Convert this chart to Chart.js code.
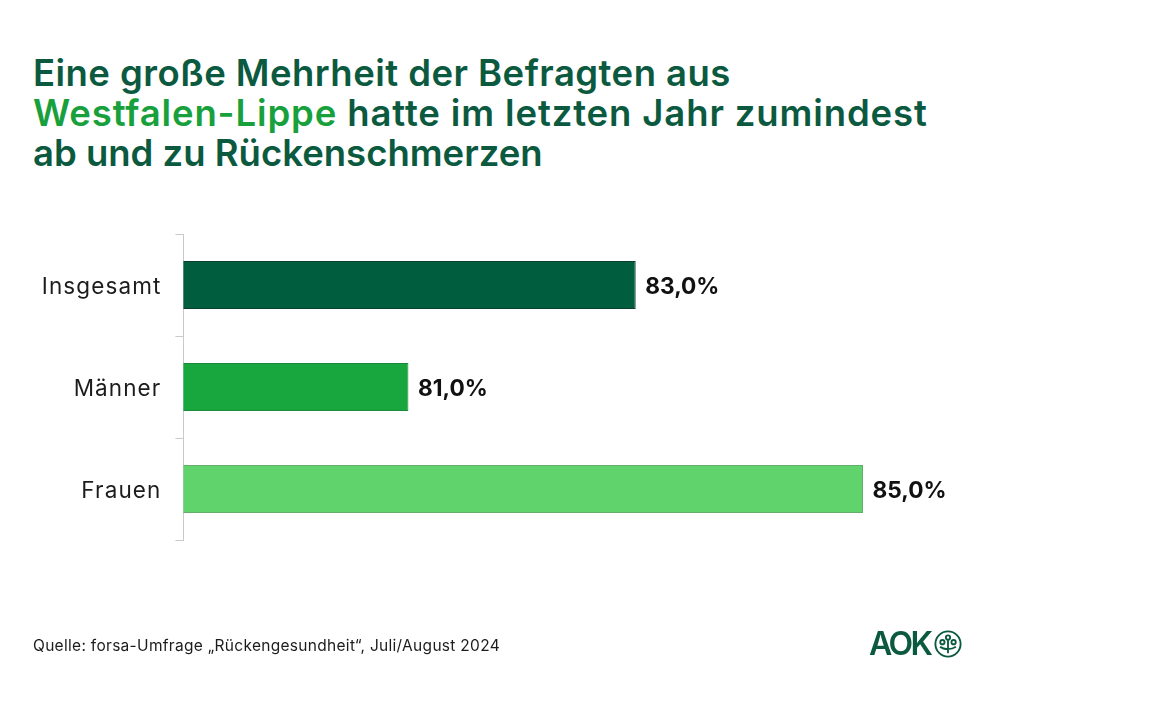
<!DOCTYPE html>
<html lang="de">
<head>
<meta charset="utf-8">
<title>Rückenschmerzen Westfalen-Lippe</title>
<script src="https://cdn.jsdelivr.net/npm/chart.js@4"></script>
<style>
  html, body { margin: 0; padding: 0; background: #fff; }
  #wrap { position: relative; width: 1152px; height: 720px; overflow: hidden; font-family: Inter, sans-serif; }
  #chart { position: absolute; left: 0; top: 0; }
  h1 { position: absolute; left: 33px; top: 53px; margin: 0; font-size: 36.5px; line-height: 40px; font-weight: 600; color: #0b5a40; white-space: nowrap; }
  h1 div:nth-child(1) { letter-spacing: 0.46px; }
  h1 div:nth-child(2) { letter-spacing: 0.87px; }
  h1 span { color: #18a03c; }
  #source { position: absolute; left: 33px; top: 636px; font-size: 15.5px; letter-spacing: 0.3px; color: #1c1c1c; white-space: nowrap; }
  #logo { position: absolute; left: 869px; top: 626px; display: flex; align-items: center; color: #0b5a40; }
  #logo b { font-size: 32px; font-weight: 600; letter-spacing: -2.5px; line-height: 36px; }
  #logo svg { margin-left: 3px; }
</style>
</head>
<body>
<div id="wrap">
  <h1><div>Eine große Mehrheit der Befragten aus</div><div><span>Westfalen-Lippe</span> hatte im letzten Jahr zumindest</div><div>ab und zu Rückenschmerzen</div></h1>
  <canvas id="chart" width="1152" height="720"></canvas>
  <div id="source">Quelle: forsa-Umfrage „Rückengesundheit“, Juli/August 2024</div>
  <div id="logo">
    <b>AOK</b>
    <svg width="28" height="28" viewBox="0 0 30 30" fill="none" stroke="#0b5a40" stroke-width="2">
      <circle cx="15" cy="15" r="13.5"/>
      <circle cx="15" cy="8" r="2.3"/>
      <circle cx="9" cy="13" r="2.3"/>
      <circle cx="21" cy="13" r="2.3"/>
      <path d="M15 25V10.5M6.5 18c3 2.5 6 2.5 8.5 2.5s5.500-.5 8.500-2.500"/>
    </svg>
  </div>
</div>
<script>
const categories = ['Insgesamt', 'Männer', 'Frauen'];
const values = [83, 81, 85];
const valueLabels = ['83,0%', '81,0%', '85,0%'];
const barColors = ['#005e3f', '#18a73f', '#60d36c'];
const barBorders = ['#0a3f2c', '#1a8a3c', '#63ad6c'];

const valueLabelPlugin = {
  id: 'valueLabels',
  // Achsenbeschriftung etwas weiter laufen lassen
  beforeDraw(chart) {
    chart.ctx.letterSpacing = '1.1px';
  },
  // Werte rechts neben den Balken
  afterDatasetsDraw(chart) {
    const ctx = chart.ctx;
    const meta = chart.getDatasetMeta(0);
    ctx.save();
    ctx.letterSpacing = '0px';
    ctx.font = '700 22.7px Inter, sans-serif';
    ctx.fillStyle = '#111';
    ctx.textAlign = 'left';
    ctx.textBaseline = 'middle';
    meta.data.forEach((bar, i) => {
      ctx.fillText(valueLabels[i], bar.x + 9.5, bar.y + 2);
    });
    ctx.restore();
  }
};

new Chart(document.getElementById('chart'), {
  type: 'bar',
  data: {
    labels: categories,
    datasets: [{
      data: values,
      backgroundColor: barColors,
      borderColor: barBorders,
      borderWidth: 1,
      inflateAmount: 0,
      barPercentage: 0.4706,
      categoryPercentage: 1
    }]
  },
  options: {
    indexAxis: 'y',
    responsive: false,
    animation: false,
    layout: { padding: { left: 0, top: 234, right: 289, bottom: 180 } },
    plugins: { legend: { display: false }, tooltip: { enabled: false } },
    scales: {
      x: { display: false, min: 79.02, max: 85 },
      y: {
        afterFit(scale) { scale.width = 183.4; },
        border: { color: '#c9c9c9', width: 1 },
        grid: { offset: true, drawOnChartArea: false, tickLength: 8, tickColor: '#c9c9c9' },
        ticks: { color: '#1c1c1c', padding: 14, labelOffset: 2, font: { family: 'Inter, sans-serif', size: 22.5 } }
      }
    }
  },
  plugins: [valueLabelPlugin]
});
</script>
</body>
</html>
